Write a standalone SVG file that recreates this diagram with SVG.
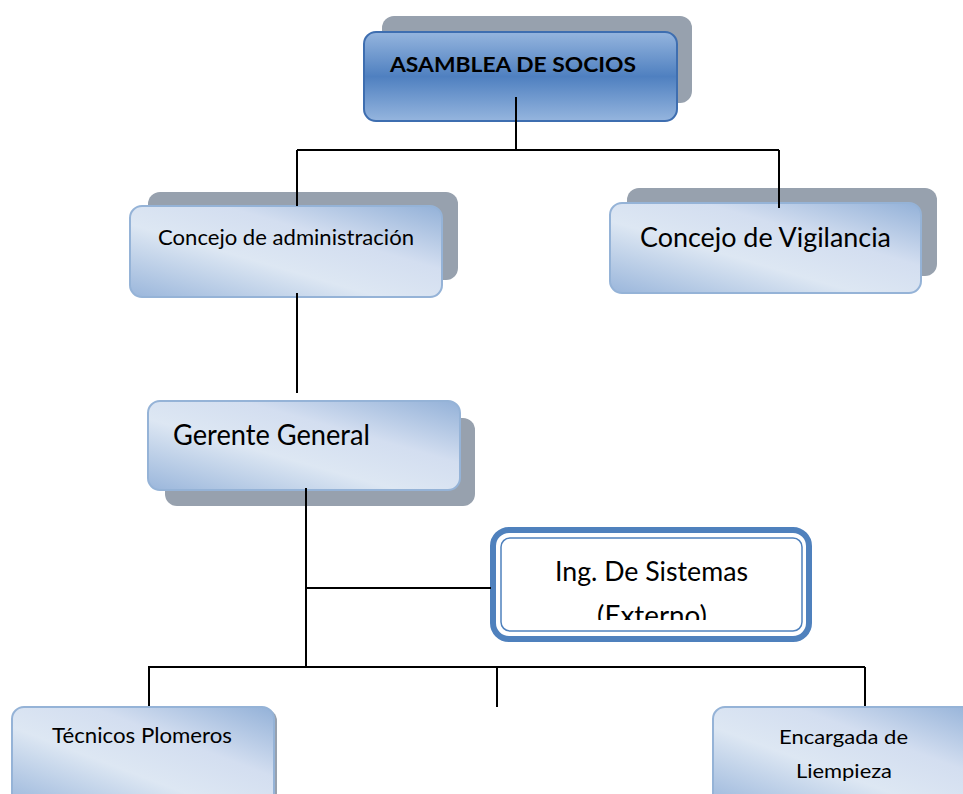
<svg xmlns="http://www.w3.org/2000/svg" width="963" height="794" viewBox="0 0 963 794">
<defs>
<linearGradient id="gDark" x1="0" y1="0" x2="0" y2="1">
<stop offset="0" stop-color="#95b5de"/>
<stop offset="0.5" stop-color="#4f80c0"/>
<stop offset="1" stop-color="#95b5de"/>
</linearGradient>
<linearGradient id="gLight" x1="1" y1="0" x2="0" y2="1">
<stop offset="0" stop-color="#93b1d8"/>
<stop offset="0.35" stop-color="#d3def0"/>
<stop offset="0.6" stop-color="#dde7f3"/>
<stop offset="1" stop-color="#9ab6db"/>
</linearGradient>
<clipPath id="clipIng"><rect x="500" y="537" width="302" height="83"/></clipPath>
</defs>
<style>
.shadow{fill:#97a1ae}
.light{fill:url(#gLight);stroke:#95b3d7;stroke-width:2}
.dark{fill:url(#gDark);stroke:#3e6eb0;stroke-width:2}
.t{font-family:Lato,"Liberation Sans",sans-serif;fill:#000}
.ln{stroke:#000;stroke-width:2;fill:none}
</style>
<rect width="963" height="794" fill="#fff"/>
<g id="asamblea">
<rect class="shadow" x="382" y="16" width="310" height="87" rx="12"/>
<rect class="dark" x="364" y="32" width="313" height="89" rx="12"/>
<text class="t" x="390" y="72" font-size="21" font-weight="bold" textLength="246" lengthAdjust="spacingAndGlyphs">ASAMBLEA DE SOCIOS</text>
</g>
<g id="concejo-admin">
<rect class="shadow" x="148" y="192" width="310" height="88" rx="12"/>
<rect class="light" x="130" y="206" width="312" height="91" rx="12"/>
<text class="t" x="158" y="245" font-size="21" textLength="256" lengthAdjust="spacingAndGlyphs">Concejo de administración</text>
</g>
<g id="concejo-vigilancia">
<rect class="shadow" x="627" y="188" width="310" height="88" rx="12"/>
<rect class="light" x="610" y="203" width="311" height="90" rx="12"/>
<text class="t" x="640" y="247" font-size="27" textLength="251" lengthAdjust="spacingAndGlyphs">Concejo de Vigilancia</text>
</g>
<g id="gerente">
<rect class="shadow" x="165" y="418" width="310" height="88" rx="12"/>
<rect class="light" x="148" y="401" width="312" height="89" rx="12"/>
<text class="t" x="173" y="445" font-size="28" textLength="197" lengthAdjust="spacingAndGlyphs">Gerente General</text>
</g>
<g id="ing-sistemas">
<rect x="493" y="530" width="316" height="109" rx="16" fill="#fff" stroke="#4f81bd" stroke-width="6"/>
<rect x="501" y="538" width="301" height="93" rx="9" fill="none" stroke="#4f81bd" stroke-width="1.5"/>
<g clip-path="url(#clipIng)">
<text class="t" x="555" y="581" font-size="26" textLength="193" lengthAdjust="spacingAndGlyphs">Ing. De Sistemas</text>
<text class="t" x="597" y="625" font-size="26" textLength="110" lengthAdjust="spacingAndGlyphs">(Externo)</text>
</g>
</g>
<g id="tecnicos">
<rect class="shadow" x="15" y="709" width="262" height="100" rx="12"/>
<rect class="light" x="12" y="707" width="262" height="100" rx="12"/>
<text class="t" x="52" y="743" font-size="21" textLength="180" lengthAdjust="spacingAndGlyphs">Técnicos Plomeros</text>
</g>
<g id="encargada">
<rect class="light" x="713" y="707" width="270" height="100" rx="12"/>
<text class="t" x="779" y="744" font-size="20" textLength="129" lengthAdjust="spacingAndGlyphs">Encargada de</text>
<text class="t" x="796" y="778" font-size="20" textLength="96" lengthAdjust="spacingAndGlyphs">Liempieza</text>
</g>
<g id="connectors">
<path class="ln" d="M516 97V150M297 150H779M297 150V206M779 150V208"/>
<path class="ln" d="M297 293V393"/>
<path class="ln" d="M306 488V666M306 588H491"/>
<path class="ln" d="M149 667H865M149 666V706M497 666V707M865 667V706"/>
</g>
</svg>
